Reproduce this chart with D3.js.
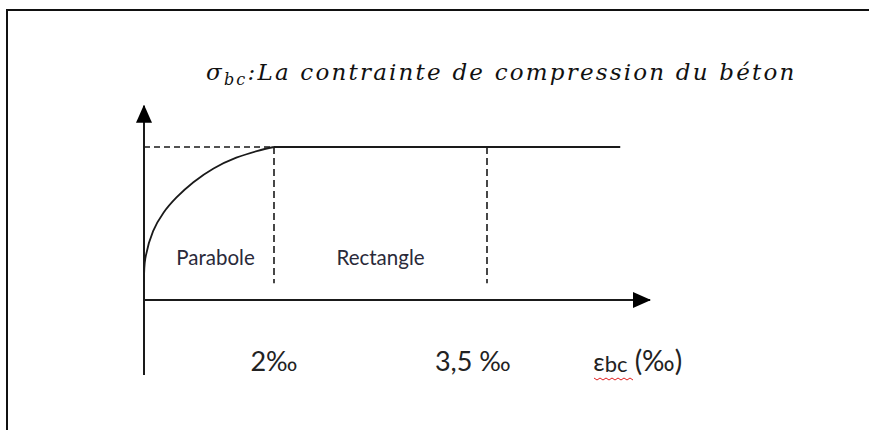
<!DOCTYPE html>
<html>
<head>
<meta charset="utf-8">
<script src="https://cdn.jsdelivr.net/npm/d3@7"></script>
<style>
  html, body { margin: 0; padding: 0; background: #fff; overflow: hidden; }
  svg { display: block; }
</style>
</head>
<body>
<script>
// strain (per mille) / relative stress points
var curveStrain = [0, 0.02, 0.14, 0.30, 0.50, 0.76, 1.07, 1.42, 1.75, 2.0];
var curveStress = [0.12, 0.27, 0.45, 0.57, 0.67, 0.77, 0.86, 0.93, 0.975, 1.0];

var plateauStart = 2;
var plateauEnd = 4.44;
var limitStrains = [2, 3.5];

var zoneNames = ["Parabole", "Rectangle"];
var zoneLabelAt = [1.1, 2.75];
var zoneLabelStress = 0.23;

var tickLabels = ["2‰", "3,5 ‰"];
var tickLabelAt = [2, 3.4];
var axisLabelAt = 4.25;

var xAxisMax = 4.65;
var yAxisMin = -0.49;
var yAxisMax = 1.27;

var width = 869;
var height = 430;

var svg = d3.select("body").append("svg")
    .attr("width", width)
    .attr("height", height);

// frame of the picture: only top and left edges
svg.append("line")
    .attr("x1", 7).attr("y1", 10)
    .attr("x2", width).attr("y2", 10)
    .attr("stroke", "#111").attr("stroke-width", 2);
svg.append("line")
    .attr("x1", 7).attr("y1", 9)
    .attr("x2", 7).attr("y2", height)
    .attr("stroke", "#111").attr("stroke-width", 2);

// schematic axis: strain scale is not linear in the figure
var x = d3.scaleLinear()
    .domain([0, 2, 3.5, xAxisMax])
    .range([144, 274, 487, 650]);

var y = d3.scaleLinear()
    .domain([0, 1])
    .range([300, 147]);

var ink = "#1a1a1a";

svg.append("defs").append("marker")
    .attr("id", "arrow")
    .attr("viewBox", "0 0 18 16")
    .attr("refX", 17)
    .attr("refY", 8)
    .attr("markerWidth", 18)
    .attr("markerHeight", 16)
    .attr("markerUnits", "userSpaceOnUse")
    .attr("orient", "auto")
    .append("path")
    .attr("d", "M0,0 L18,8 L0,16 Z")
    .attr("fill", "#000");

// axes
svg.append("line")
    .attr("x1", x(0)).attr("y1", y(yAxisMin))
    .attr("x2", x(0)).attr("y2", y(yAxisMax))
    .attr("stroke", ink).attr("stroke-width", 2)
    .attr("marker-end", "url(#arrow)");

svg.append("line")
    .attr("x1", x(0)).attr("y1", y(0))
    .attr("x2", x(xAxisMax)).attr("y2", y(0))
    .attr("stroke", ink).attr("stroke-width", 2)
    .attr("marker-end", "url(#arrow)");

// dashed guides
svg.append("line")
    .attr("x1", x(0)).attr("y1", y(1))
    .attr("x2", x(plateauStart)).attr("y2", y(1))
    .attr("stroke", ink).attr("stroke-width", 1.6)
    .attr("stroke-dasharray", "6,4");

svg.selectAll(".limit")
    .data(limitStrains).enter().append("line")
    .attr("class", "limit")
    .attr("x1", function(d){ return x(d); })
    .attr("x2", function(d){ return x(d); })
    .attr("y1", y(1))
    .attr("y2", y(0.11))
    .attr("stroke", ink).attr("stroke-width", 1.6)
    .attr("stroke-dasharray", "7,4");

// parabola
var pts = curveStrain.map(function(d, i){ return [d, curveStress[i]]; });
var line = d3.line()
    .x(function(d){ return x(d[0]); })
    .y(function(d){ return y(d[1]); })
    .curve(d3.curveCatmullRom.alpha(0.5));

svg.append("path")
    .attr("d", line(pts))
    .attr("fill", "none")
    .attr("stroke", ink)
    .attr("stroke-width", 1.8);

// plateau
svg.append("line")
    .attr("x1", x(plateauStart)).attr("y1", y(1))
    .attr("x2", x(plateauEnd)).attr("y2", y(1))
    .attr("stroke", ink).attr("stroke-width", 2);

// zone labels
svg.selectAll(".zone")
    .data(zoneNames).enter().append("text")
    .attr("class", "zone")
    .attr("x", function(d, i){ return x(zoneLabelAt[i]); })
    .attr("y", y(zoneLabelStress))
    .attr("text-anchor", "middle")
    .style("font-family", "Lato, 'Open Sans', sans-serif")
    .style("font-size", "20.5px")
    .style("fill", "#2a2a3a")
    .text(function(d){ return d; });

// tick labels under the strain axis
svg.selectAll(".tick-label")
    .data(tickLabels).enter().append("text")
    .attr("class", "tick-label")
    .attr("x", function(d, i){ return x(tickLabelAt[i]); })
    .attr("y", 371)
    .attr("text-anchor", "middle")
    .style("font-family", "Lato, 'Open Sans', sans-serif")
    .style("font-size", "27px")
    .style("fill", "#222")
    .text(function(d){ return d; });

var axisLabel = svg.append("text")
    .attr("x", x(axisLabelAt))
    .attr("y", 371)
    .attr("text-anchor", "start")
    .style("font-family", "Lato, 'Open Sans', sans-serif")
    .style("font-size", "28px")
    .style("fill", "#222");
axisLabel.append("tspan").style("font-size", "25px").text("ε");
axisLabel.append("tspan").attr("dy", 1).style("font-size", "22px").text("bc");
axisLabel.append("tspan").attr("dy", -1).text(" (‰)");

// red spell-check squiggle under εbc
var sq = [];
for (var k = 0; k <= 13; k++) {
    sq.push([594 + k * 3, 378 + (k % 2 === 0 ? 0 : 2)]);
}
svg.append("path")
    .attr("d", d3.line()(sq))
    .attr("fill", "none")
    .attr("stroke", "#e02020")
    .attr("stroke-width", 1);

// title
var title = svg.append("text")
    .attr("x", 206)
    .attr("y", 80)
    .style("font-family", "'DejaVu Serif', serif")
    .style("font-style", "italic")
    .style("font-size", "23px")
    .style("letter-spacing", "2.2px")
    .style("fill", "#111");
title.append("tspan").text("σ");
title.append("tspan").attr("dy", 5).style("font-size", "16px").text("bc");
title.append("tspan").attr("dy", -5).text(":La contrainte de compression du béton");
</script>
</body>
</html>
